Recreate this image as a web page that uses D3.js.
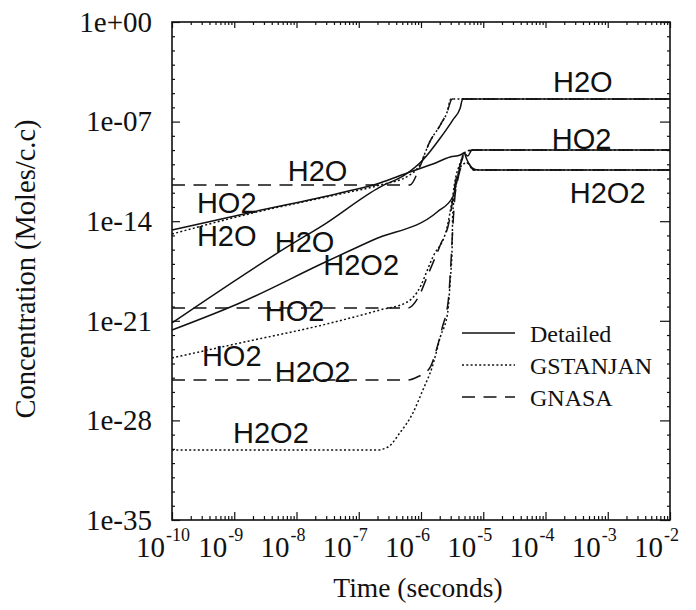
<!DOCTYPE html>
<html><head><meta charset="utf-8">
<script src="https://cdn.jsdelivr.net/npm/d3@7"></script>
<style>body{margin:0;background:#fff}</style>
</head><body>
<svg id="c" width="696" height="610"></svg>
<script>
// Each point: [log10 time (s), log10 concentration (Moles/c.c)]
const detailedH2O = [[-10,-21.15],[-8.15,-15.81],[-7.57,-14.27],[-6.66,-11.60],[-6.26,-10.75],[-5.97,-9.70],[-5.69,-8.15],[-5.49,-6.89],[-5.37,-6.04],[-5.33,-5.41],[-2,-5.41]];
const detailedHO2 = [[-10,-14.62],[-8.70,-13.35],[-7.30,-12.02],[-6.66,-11.31],[-6.22,-10.61],[-5.81,-9.98],[-5.53,-9.49],[-5.37,-9.35],[-5.31,-9.21],[-5.25,-9.42],[-5.18,-9.00],[-2,-9.00]];
const detailedH2O2 = [[-10,-21.65],[-8.91,-19.75],[-7.57,-16.94],[-6.77,-15.32],[-5.74,-13.35],[-5.49,-12.30],[-5.42,-11.10],[-5.36,-9.91],[-5.31,-9.21],[-5.26,-9.70],[-5.18,-10.26],[-5.08,-10.40],[-2,-10.40]];

const gstanjanH2O = [[-10,-14.90],[-8.70,-13.42],[-7.30,-12.09],[-6.66,-11.46],[-6.18,-10.75],[-6.02,-10.05],[-5.86,-8.43],[-5.69,-7.24],[-5.58,-6.33],[-5.52,-5.41],[-2,-5.41]];
const gstanjanHO2 = [[-10,-23.61],[-8.91,-22.56],[-7.51,-21.22],[-6.66,-20.24],[-6.22,-19.68],[-6.06,-18.98],[-5.81,-16.52],[-5.58,-14.41],[-5.50,-12.51],[-5.45,-11.10],[-5.37,-9.91],[-5.29,-9.14],[-5.18,-9.00],[-2,-9.00]];
const gstanjanH2O2 = [[-10,-30.08],[-6.71,-30.08],[-6.53,-29.87],[-6.34,-28.88],[-6.13,-27.48],[-5.97,-25.86],[-5.82,-24.25],[-5.69,-22.14],[-5.57,-20.38],[-5.53,-18.13],[-5.50,-15.81],[-5.49,-13.42],[-5.42,-11.10],[-5.34,-10.05],[-5.26,-9.91],[-5.16,-10.40],[-2,-10.40]];

const gnasaH2O = [[-10,-11.46],[-6.18,-11.46],[-6.02,-10.19],[-5.86,-8.43],[-5.69,-7.24],[-5.58,-6.33],[-5.50,-5.41],[-2,-5.41]];
const gnasaHO2 = [[-10,-20.10],[-6.21,-20.10],[-6.05,-19.40],[-5.89,-17.78],[-5.69,-15.67],[-5.55,-14.06],[-5.49,-12.51],[-5.44,-11.10],[-5.36,-9.91],[-5.28,-9.14],[-5.16,-9.00],[-2,-9.00]];
const gnasaH2O2 = [[-10,-25.16],[-6.21,-25.16],[-6.06,-24.95],[-5.86,-24.32],[-5.75,-23.0],[-5.66,-21.5],[-5.56,-19.5],[-5.52,-17.0],[-5.49,-14.5],[-5.46,-12.5],[-5.41,-11.1],[-5.33,-10.05],[-5.25,-9.91],[-5.15,-10.40],[-2,-10.40]];

const xTickExps = [-10,-9,-8,-7,-6,-5,-4,-3,-2];
const yTickExps = [0,-7,-14,-21,-28,-35];
const yTickLabels = ["1e+00","1e-07","1e-14","1e-21","1e-28","1e-35"];
const legendNames = ["Detailed","GSTANJAN","GNASA"];
// species labels: text, anchored (left, baseline) at [log10 t, log10 c]
const labelTexts = ["H2O","HO2","H2O2","H2O","HO2","H2O","H2O","H2O2","HO2","HO2","H2O2","H2O2"];
const labelAt = [[-3.88,-4.92],[-3.90,-8.93],[-3.61,-12.72],[-8.14,-11.17],[-9.60,-13.42],[-9.60,-15.74],[-8.35,-16.16],[-7.57,-17.78],[-8.51,-21.01],[-9.52,-24.18],[-8.35,-25.30],[-9.02,-29.59]];

const svg = d3.select("#c");
const L=172, R=670, T=22, B=520;
const x = d3.scaleLog().domain([1e-10,1e-2]).range([L,R]);
const y = d3.scaleLog().domain([1e-35,1]).range([B,T]);
const P = d => [x(Math.pow(10,d[0])), y(Math.pow(10,d[1]))];

const styles = {
  solid: null,
  dotted: "2,2.3",
  dashed: "13,8.5"
};
const series = [
  [detailedH2O,"solid"],[detailedHO2,"solid"],[detailedH2O2,"solid"],
  [gstanjanH2O,"dotted"],[gstanjanHO2,"dotted"],[gstanjanH2O2,"dotted"],
  [gnasaH2O,"dashed"],[gnasaHO2,"dashed"],[gnasaH2O2,"dashed"]
];
const line = d3.line().x(d=>P(d)[0]).y(d=>P(d)[1]).curve(d3.curveMonotoneX);
series.forEach(([data,st])=>{
  svg.append("path").attr("d",line(data)).attr("fill","none")
    .attr("stroke","#111").attr("stroke-width",1.5)
    .attr("stroke-dasharray",styles[st]);
});

// frame
svg.append("rect").attr("x",L).attr("y",T).attr("width",R-L).attr("height",B-T)
  .attr("fill","none").attr("stroke","#111").attr("stroke-width",1.6);

// minor x ticks
const minorX = [];
for(let e=-10;e<-2;e++) for(let k=2;k<=9;k++) minorX.push(k*Math.pow(10,e));
const majorX = xTickExps.map(e=>Math.pow(10,e));
const ax = (gen, tx, ty) => { const g = svg.append("g").attr("transform",`translate(${tx},${ty})`).call(gen); g.select(".domain").remove(); g.selectAll("line").attr("stroke","#111").attr("stroke-width",1.2); return g; };
ax(d3.axisBottom(x).tickValues(minorX).tickSize(-4).tickFormat(""),0,B);
ax(d3.axisBottom(x).tickValues(majorX).tickSize(-8).tickFormat(""),0,B);
ax(d3.axisTop(x).tickValues(minorX).tickSize(-3).tickFormat(""),0,T);
ax(d3.axisTop(x).tickValues(majorX).tickSize(-6).tickFormat(""),0,T);

// y ticks
const majorY = yTickExps.map(e=>Math.pow(10,e));
const minorY = d3.range(-34,0).filter(e=>e%7!==0).map(e=>Math.pow(10,e));
const gl = ax(d3.axisLeft(y).tickValues(majorY).tickSize(-8).tickPadding(20).tickFormat((d,i)=>yTickLabels[i]),L,0);
gl.selectAll("text").attr("font-family","'Liberation Serif','Times New Roman',serif").attr("font-size",29).attr("fill","#111");
ax(d3.axisLeft(y).tickValues(minorY).tickSize(-3).tickFormat(""),L,0);
ax(d3.axisRight(y).tickValues(majorY).tickSize(-10).tickFormat(""),R,0);
ax(d3.axisRight(y).tickValues(minorY).tickSize(-3).tickFormat(""),R,0);

// x tick labels 10^e
const serif = "'Liberation Serif','Times New Roman',serif";
xTickExps.forEach(e=>{
  const px = x(Math.pow(10,e));
  svg.append("text").attr("x",px-7).attr("y",557).attr("text-anchor","end")
    .attr("font-family",serif).attr("font-size",29).attr("fill","#111").text("10");
  svg.append("text").attr("x",px-6).attr("y",541).attr("text-anchor","start")
    .attr("font-family",serif).attr("font-size",18).attr("fill","#111").text(String(e));
});

// axis titles
svg.append("text").attr("x",(L+R)/2-3).attr("y",597).attr("text-anchor","middle")
  .attr("font-family",serif).attr("font-size",27.5).attr("fill","#111").text("Time (seconds)");
svg.append("text").attr("transform","translate(35,269) rotate(-90)").attr("text-anchor","middle")
  .attr("font-family",serif).attr("font-size",28.5).attr("fill","#111").text("Concentration (Moles/c.c)");

// species labels
labelTexts.forEach((t,i)=>{
  const p = P(labelAt[i]);
  svg.append("text").attr("x",p[0]).attr("y",p[1])
    .attr("font-family","'Liberation Sans',Arial,sans-serif").attr("font-size",29).attr("fill","#111").text(t);
});

// legend
const legY = d3.scalePoint().domain(legendNames).range([333,397]);
legendNames.forEach((n,i)=>{
  const st = ["solid","dotted","dashed"][i];
  const ly = legY(n);
  svg.append("line").attr("x1",462).attr("x2",515).attr("y1",ly).attr("y2",ly)
    .attr("stroke","#111").attr("stroke-width",1.5).attr("stroke-dasharray",styles[st]);
  svg.append("text").attr("x",530).attr("y",ly+9).attr("font-family",serif)
    .attr("font-size",24).attr("fill","#111").text(n);
});
</script>
</body></html>
